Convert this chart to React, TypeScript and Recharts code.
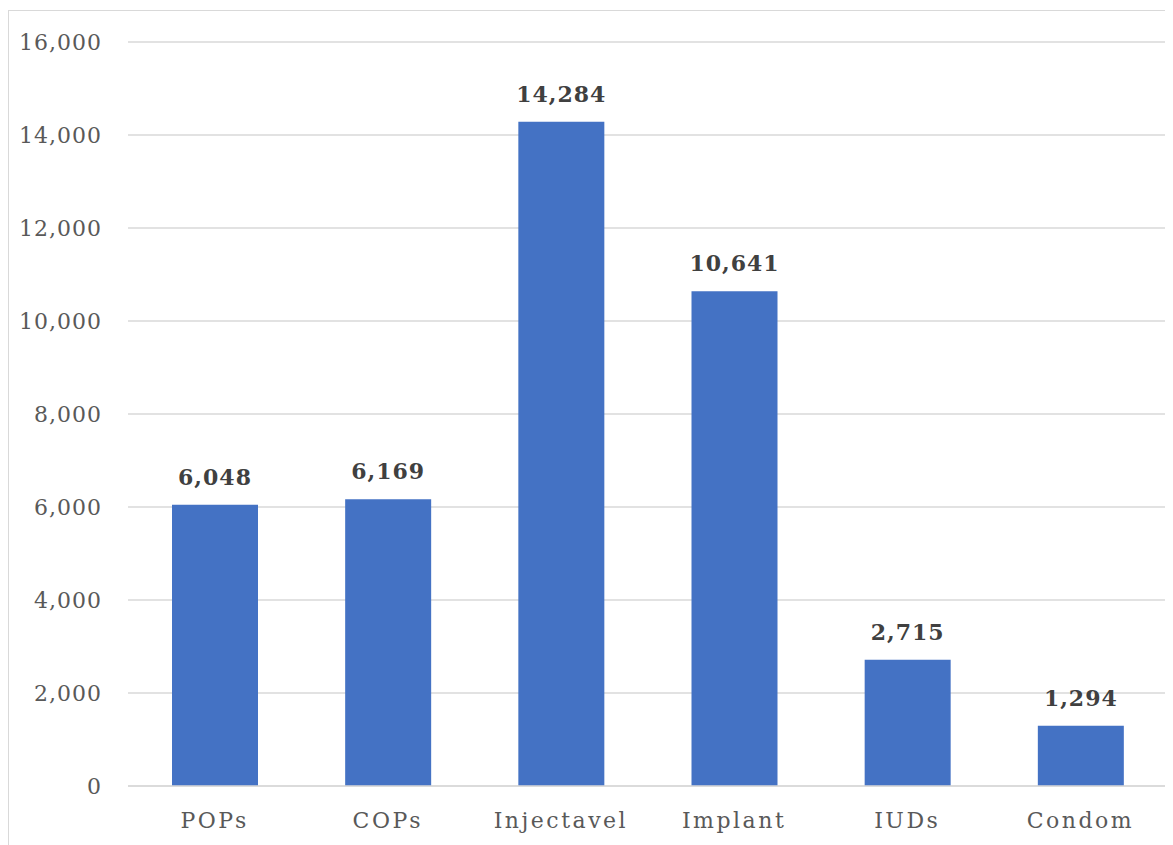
import { BarChart, Bar, XAxis, YAxis, CartesianGrid, LabelList } from 'recharts';

const methods = ['POPs', 'COPs', 'Injectavel', 'Implant', 'IUDs', 'Condom'];
const users = [6048, 6169, 14284, 10641, 2715, 1294];
const yTicks = [0, 2000, 4000, 6000, 8000, 10000, 12000, 14000, 16000];

const data = methods.map((m, i) => ({ method: m, users: users[i] }));

const fmt = (v: number) => v.toLocaleString('en-US');
const FONT = '"DejaVu Serif", "Liberation Serif", serif';

export default function App() {
  return (
    <div
      style={{
        marginTop: 2,
        width: 1164,
        height: 834,
        borderTop: '1px solid #d9d9d9',
        borderLeft: '1px solid #d9d9d9',
        background: '#fff',
      }}
    >
      <BarChart
        width={1164}
        height={834}
        data={data}
        margin={{ top: 31, right: 6, bottom: 0, left: 0 }}
        barCategoryGap={0}
      >
        <CartesianGrid vertical={false} stroke="#d9d9d9" strokeWidth={1.5} />
        <XAxis
          dataKey="method"
          axisLine={{ stroke: '#d9d9d9', strokeWidth: 1.5 }}
          tickLine={false}
          tickSize={0}
          tickMargin={26}
          height={59}
          tick={{ fontSize: 22, fill: '#595959', fontFamily: FONT, letterSpacing: 2.5 }}
        />
        <YAxis
          width={119}
          domain={[0, 16000]}
          ticks={yTicks}
          tickFormatter={fmt}
          axisLine={false}
          tickLine={false}
          tickSize={0}
          tickMargin={26}
          tick={{ fontSize: 22, fill: '#595959', fontFamily: FONT, letterSpacing: 1 }}
        />
        <Bar dataKey="users" fill="#4472c4" barSize={86} isAnimationActive={false}>
          <LabelList
            dataKey="users"
            position="top"
            offset={20}
            formatter={(v: any) => fmt(Number(v))}
            style={{ fontSize: 22, fontWeight: 'bold', fill: '#404040', fontFamily: FONT, letterSpacing: 1 }}
          />
        </Bar>
      </BarChart>
    </div>
  );
}
